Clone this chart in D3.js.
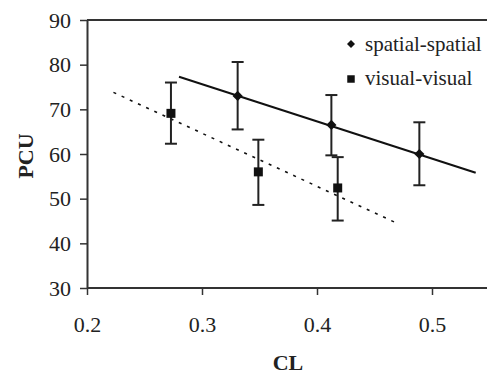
<!DOCTYPE html>
<html>
<head>
<meta charset="utf-8">
<script src="https://cdn.jsdelivr.net/npm/d3@7"></script>
<style>
  body { margin: 0; background: #fff; }
  svg { display: block; }
</style>
</head>
<body>
<div id="chart"></div>
<script>
// spatial-spatial
var ssCL = [0.331, 0.4125, 0.489];
var ssPCU = [73.0, 66.5, 60.0];
var ssHi = [80.6, 73.2, 67.1];
var ssLo = [65.5, 59.7, 53.0];
var ssTrend = [[0.280, 77.3], [0.538, 55.8]];

// visual-visual
var vvCL = [0.273, 0.349, 0.418];
var vvPCU = [69.1, 56.0, 52.4];
var vvHi = [76.0, 63.2, 59.3];
var vvLo = [62.3, 48.6, 45.1];
var vvTrend = [[0.223, 73.8], [0.467, 44.8]];

var xTicks = [0.2, 0.3, 0.4, 0.5];
var yTicks = [30, 40, 50, 60, 70, 80, 90];
var seriesNames = ["spatial-spatial", "visual-visual"];

var width = 487, height = 375;
var font = "'Liberation Serif', 'Times New Roman', serif";

var svg = d3.select("#chart").append("svg")
    .attr("width", width)
    .attr("height", height);

var x = d3.scaleLinear().domain([0.2, 0.55]).range([87, 489.5]);
var y = d3.scaleLinear().domain([30, 90]).range([288, 20]);

// frame: top line (right side is cut off in the original)
svg.append("line")
    .attr("x1", x(0.2)).attr("x2", width)
    .attr("y1", y(90)).attr("y2", y(90))
    .attr("stroke", "#333").attr("stroke-width", 2);

// Y axis
var yAxis = svg.append("g")
    .attr("transform", `translate(${x(0.2)},0)`)
    .call(d3.axisLeft(y).tickValues(yTicks).tickSize(7).tickPadding(9).tickSizeOuter(0));

// X axis
var xAxis = svg.append("g")
    .attr("transform", `translate(0,${y(30)})`)
    .call(d3.axisBottom(x).tickValues(xTicks).tickSize(7).tickSizeOuter(0).tickFormat(d3.format(".1f")));

xAxis.select(".domain").attr("d", `M${x(0.2)},0H${width}`);

[xAxis, yAxis].forEach(function(ax) {
    ax.attr("font-family", null);
    ax.select(".domain").attr("stroke", "#333").attr("stroke-width", 2);
    ax.selectAll(".tick line").attr("stroke", "#333").attr("stroke-width", 1.5);
    ax.selectAll(".tick text")
        .attr("fill", "#222")
        .style("font-family", font)
        .style("font-size", "22px");
});
xAxis.selectAll(".tick text").attr("y", 44).attr("dy", 0);

// trend lines
var line = d3.line().x(function(d) { return x(d[0]); }).y(function(d) { return y(d[1]); });

svg.append("path")
    .attr("d", line(ssTrend))
    .attr("fill", "none")
    .attr("stroke", "#111")
    .attr("stroke-width", 2);

svg.append("path")
    .attr("d", line(vvTrend))
    .attr("fill", "none")
    .attr("stroke", "#111")
    .attr("stroke-width", 1.6)
    .attr("stroke-dasharray", "3,6");

// error bars
function errorBars(xs, lo, hi) {
    var g = svg.append("g").attr("stroke", "#222").attr("stroke-width", 2);
    xs.forEach(function(cl, i) {
        g.append("line")
            .attr("x1", x(cl)).attr("x2", x(cl))
            .attr("y1", y(lo[i])).attr("y2", y(hi[i]));
        [lo[i], hi[i]].forEach(function(v) {
            g.append("line")
                .attr("x1", x(cl) - 6).attr("x2", x(cl) + 6)
                .attr("y1", y(v)).attr("y2", y(v));
        });
    });
}
errorBars(ssCL, ssLo, ssHi);
errorBars(vvCL, vvLo, vvHi);

// markers
var diamond = d3.symbol().type(d3.symbolSquare).size(52);
var square = d3.symbol().type(d3.symbolSquare).size(81);

svg.selectAll(".ss")
    .data(ssCL)
    .enter().append("path")
    .attr("class", "ss")
    .attr("d", diamond)
    .attr("transform", function(d, i) { return `translate(${x(d)},${y(ssPCU[i])}) rotate(45)`; })
    .attr("fill", "#111");

svg.selectAll(".vv")
    .data(vvCL)
    .enter().append("path")
    .attr("class", "vv")
    .attr("d", square)
    .attr("transform", function(d, i) { return `translate(${x(d)},${y(vvPCU[i])})`; })
    .attr("fill", "#111");

// legend
var legend = svg.append("g");
legend.append("path")
    .attr("d", d3.symbol().type(d3.symbolSquare).size(32))
    .attr("transform", "translate(351,44) rotate(45)")
    .attr("fill", "#111");
legend.append("path")
    .attr("d", d3.symbol().type(d3.symbolSquare).size(56))
    .attr("transform", "translate(351,79)")
    .attr("fill", "#111");
legend.selectAll("text")
    .data(seriesNames)
    .enter().append("text")
    .attr("x", 365)
    .attr("y", function(d, i) { return 51 + i * 34; })
    .text(function(d) { return d; })
    .attr("fill", "#222")
    .style("font-family", font)
    .style("font-size", "21px");

// axis titles
svg.append("text")
    .attr("transform", "translate(33,156) rotate(-90)")
    .attr("text-anchor", "middle")
    .attr("fill", "#222")
    .style("font-family", font)
    .style("font-size", "22px")
    .style("font-weight", "bold")
    .text("PCU");

svg.append("text")
    .attr("x", 288)
    .attr("y", 370)
    .attr("text-anchor", "middle")
    .attr("fill", "#222")
    .style("font-family", font)
    .style("font-size", "22px")
    .style("font-weight", "bold")
    .text("CL");
</script>
</body>
</html>
